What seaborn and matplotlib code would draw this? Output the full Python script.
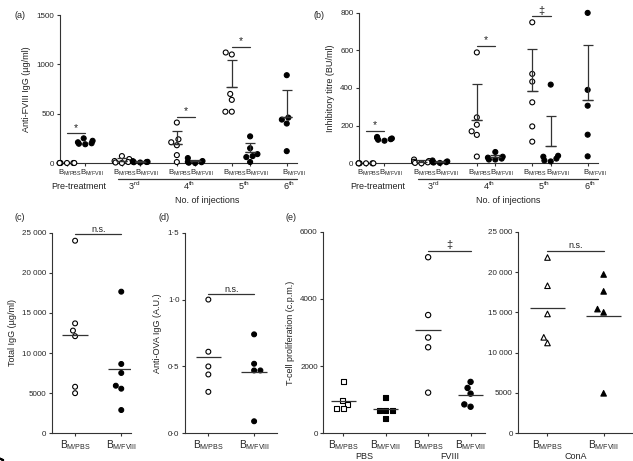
import warnings
import pandas as pd
import seaborn as sns
import matplotlib.pyplot as plt
from matplotlib.transforms import ScaledTranslation

warnings.filterwarnings('ignore')  # el swarm avisa cuando los puntos no caben

# ---------------- datos ----------------
# (a) Anti-FVIII IgG (ug/ml)
a_pre_pbs = [0, 0, 0, 0, 0, 0]
a_pre_fviii = [250, 225, 210, 200, 195, 190]
a_3_pbs = [70, 40, 20, 10, 5, 0]
a_3_fviii = [18, 15, 12, 10, 8, 5]
a_4_pbs = [410, 240, 210, 180, 80, 10]
a_4_fviii = [50, 20, 12, 8, 3, 0]
a_5_pbs = [1120, 1100, 700, 640, 520, 520]
a_5_fviii = [270, 150, 90, 70, 60, 10]
a_6_fviii = [890, 460, 440, 400, 120]

# (b) titulo inhibidor (BU/ml)
b_pre_pbs = [0, 0, 0, 0, 0, 0]
b_pre_fviii = [140, 135, 132, 128, 125, 120]
b_3_pbs = [20, 12, 8, 5, 2, 0]
b_3_fviii = [15, 10, 8, 6, 4, 2]
b_4_pbs = [589, 244, 205, 170, 151, 36]
b_4_fviii = [60, 35, 30, 25, 20, 20]
b_5_pbs = [749, 475, 434, 324, 196, 115]
b_5_fviii = [418, 40, 35, 25, 15, 10]
b_6_fviii = [799, 390, 306, 152, 37]

# (c) IgG total (ug/ml)
c_pbs = [24000, 13700, 12800, 12100, 5800, 5000]
c_fviii = [17650, 8640, 7520, 5930, 5560, 2900]

# (d) anti-OVA IgG (A.U.)
d_pbs = [1.0, 0.61, 0.50, 0.44, 0.31]
d_fviii = [0.74, 0.52, 0.47, 0.47, 0.09]

# (e) proliferacion de celulas T (c.p.m.)
e_pbs_pbs = [1530, 980, 870, 730, 730]
e_pbs_fviii = [1060, 690, 680, 680, 450]
e_fviii_pbs = [5240, 3520, 2850, 2560, 1210]
e_fviii_fviii = [1530, 1350, 1180, 860, 790]
e_cona_pbs = [21800, 18300, 14800, 11900, 11200]
e_cona_fviii = [19700, 17600, 15400, 15000, 4960]

orden_ab = ['pre_PBS', 'pre_FVIII', 'h1', '3_PBS', '3_FVIII', 'h2', '4_PBS', '4_FVIII',
            'h3', '5_PBS', '5_FVIII', 'h4', '6_FVIII']
etiq_ab = ['pre_PBS', 'pre_FVIII', '3_PBS', '3_FVIII', '4_PBS', '4_FVIII', '5_PBS', '5_FVIII', '6_FVIII']
grupos_iny = [('Pre-treatment', 'pre_PBS', 'pre_FVIII'), ('3$^{\\mathrm{rd}}$', '3_PBS', '3_FVIII'),
              ('4$^{\\mathrm{th}}$', '4_PBS', '4_FVIII'), ('5$^{\\mathrm{th}}$', '5_PBS', '5_FVIII'),
              ('6$^{\\mathrm{th}}$', '6_FVIII', '6_FVIII')]
B_PBS = r'B$_{\mathrm{M/PBS}}$'
B_FVIII = r'B$_{\mathrm{M/FVIII}}$'

# ---------------- estilo ----------------
sns.set_style('ticks')
gris = '#333333'
plt.rcParams['font.family'] = ['Liberation Sans', 'DejaVu Sans']
plt.rcParams['mathtext.fontset'] = 'custom'
plt.rcParams['mathtext.rm'] = 'Liberation Sans'
plt.rcParams['mathtext.it'] = 'Liberation Sans:italic'
plt.rcParams['text.color'] = '#222222'
plt.rcParams['axes.edgecolor'] = gris
plt.rcParams['axes.linewidth'] = 0.8
plt.rcParams['axes.labelsize'] = 6.5
plt.rcParams['axes.labelcolor'] = '#222222'

W, H = 633, 461
fig = plt.figure(figsize=(W / 100, H / 100), dpi=100)


def caja(izq, der, arr, aba):
    # rectangulo en pixeles -> fraccion de figura
    return [izq / W, (H - aba) / H, (der - izq) / W, (aba - arr) / H]


def tabla(series):
    filas = [(g, t, v) for g, t, vals in series for v in vals]
    return pd.DataFrame(filas, columns=['grupo', 'tipo', 'valor'])


def enjambre(ax, df, orden, marcador='o', tam=3.6):
    sns.swarmplot(data=df, x='grupo', y='valor', hue='tipo', order=orden,
                  hue_order=['PBS', 'FVIII'], palette={'PBS': 'white', 'FVIII': 'black'},
                  edgecolor='black', linewidth=0.8, size=tam, marker=marcador,
                  legend=False, ax=ax)
    for c in ax.collections:
        c.set_clip_on(False)


def media(ax, df, orden, grupos, ancho=0.3, de=True):
    for g in grupos:
        v = df.loc[df.grupo == g, 'valor']
        x = orden.index(g)
        ax.hlines(v.mean(), x - ancho, x + ancho, color=gris, lw=0.9, zorder=3)
        if de:
            ax.errorbar(x, v.mean(), yerr=[[0], [v.std()]], fmt='none', ecolor=gris,
                        elinewidth=0.9, capsize=3.5, capthick=0.9, zorder=3)


def signif(ax, x1, x2, y, texto, tam=7, dy=0.5):
    ax.plot([x1, x2], [y, y], color=gris, lw=0.9, clip_on=False)
    ax.annotate(texto, xy=((x1 + x2) / 2, y), xytext=(0, dy), textcoords='offset points',
                ha='center', va='bottom', fontsize=tam, annotation_clip=False)


def ejes(ax, xlim, ylim, yticks, yetiq, ylabel, xsize=7.3):
    ax.set_xlim(*xlim)
    ax.set_ylim(*ylim)
    ax.set_yticks(yticks)
    ax.set_yticklabels(yetiq)
    ax.set_ylabel(ylabel)
    ax.set_xlabel('')
    sns.despine(ax=ax)
    ax.tick_params(axis='y', labelsize=5.8, length=2.5, width=0.8, color=gris, pad=1.5)
    ax.tick_params(axis='x', labelsize=xsize, length=2.5, width=0.8, color=gris, pad=1)


def panel_inyecciones(ax, series, ylim, yticks, ylabel, sigs, alto_px):
    df = tabla(series)
    enjambre(ax, df, orden_ab, tam=3.6)
    media(ax, df, orden_ab, [g for g in etiq_ab if not g.startswith('pre')])
    ejes(ax, (-0.38, 12.56), ylim, yticks, [str(t) for t in yticks], ylabel, xsize=5.6)
    pos = [orden_ab.index(g) for g in etiq_ab]
    ax.set_xticks(pos)
    ax.set_xticklabels([B_PBS if g.endswith('PBS') else B_FVIII for g in etiq_ab])
    # las etiquetas del original quedan algo a la derecha de cada grupo
    for g, lab in zip(etiq_ab, ax.get_xticklabels()):
        dx = 3 if g.endswith('PBS') else 7
        lab.set_transform(lab.get_transform() + ScaledTranslation(dx / 100, 0, fig.dpi_scale_trans))
    for g1, g2, y, txt in sigs:
        signif(ax, orden_ab.index(g1), orden_ab.index(g2), y, txt, tam=8 if txt == '‡' else 7.5)
    tr = ax.get_xaxis_transform()
    for nombre, g1, g2 in grupos_iny:
        xm = (orden_ab.index(g1) + orden_ab.index(g2)) / 2
        ax.text(xm + 0.15, -23 / alto_px, nombre, transform=tr, ha='center', va='center',
                fontsize=6.5)
    x0 = orden_ab.index('3_PBS') - 0.2
    ax.plot([x0, 12.56], [-16 / alto_px] * 2, color=gris, lw=0.9, transform=tr, clip_on=False)
    ax.text((x0 + 12.56) / 2, -37 / alto_px, 'No. of injections', transform=tr,
            ha='center', va='center', fontsize=6.5)


# ---------------- (a) ----------------
ax_a = fig.add_axes(caja(60, 297, 15, 163))
panel_inyecciones(ax_a, [('pre_PBS', 'PBS', a_pre_pbs), ('pre_FVIII', 'FVIII', a_pre_fviii),
                         ('3_PBS', 'PBS', a_3_pbs), ('3_FVIII', 'FVIII', a_3_fviii),
                         ('4_PBS', 'PBS', a_4_pbs), ('4_FVIII', 'FVIII', a_4_fviii),
                         ('5_PBS', 'PBS', a_5_pbs), ('5_FVIII', 'FVIII', a_5_fviii),
                         ('6_FVIII', 'FVIII', a_6_fviii)],
                  (0, 1500), [0, 500, 1000, 1500], 'Anti-FVIII IgG (µg/ml)',
                  [('pre_PBS', 'pre_FVIII', 300, '*'), ('4_PBS', '4_FVIII', 470, '*'),
                   ('5_PBS', '5_FVIII', 1180, '*')], 148)

# ---------------- (b) ----------------
ax_b = fig.add_axes(caja(359, 598, 12.7, 163.3))
panel_inyecciones(ax_b, [('pre_PBS', 'PBS', b_pre_pbs), ('pre_FVIII', 'FVIII', b_pre_fviii),
                         ('3_PBS', 'PBS', b_3_pbs), ('3_FVIII', 'FVIII', b_3_fviii),
                         ('4_PBS', 'PBS', b_4_pbs), ('4_FVIII', 'FVIII', b_4_fviii),
                         ('5_PBS', 'PBS', b_5_pbs), ('5_FVIII', 'FVIII', b_5_fviii),
                         ('6_FVIII', 'FVIII', b_6_fviii)],
                  (0, 800), [0, 200, 400, 600, 800], 'Inhibitory titre (BU/ml)',
                  [('pre_PBS', 'pre_FVIII', 173, '*'), ('4_PBS', '4_FVIII', 625, '*'),
                   ('5_PBS', '5_FVIII', 780, '‡')], 150.6)

# ---------------- (c) ----------------
orden_cd = ['PBS', 'FVIII']
ax_c = fig.add_axes(caja(52, 130.5, 232.7, 433.3))
df_c = tabla([('PBS', 'PBS', c_pbs), ('FVIII', 'FVIII', c_fviii)])
enjambre(ax_c, df_c, orden_cd, tam=3.5)
media(ax_c, df_c, orden_cd, orden_cd, ancho=0.28, de=False)
ticks_mil = [0, 5000, 10000, 15000, 20000, 25000]
etiq_mil = ['0', '5000', '10 000', '15 000', '20 000', '25 000']
ejes(ax_c, (-0.5, 1.2), (0, 25000), ticks_mil, etiq_mil, 'Total IgG (µg/ml)')
ax_c.set_xticks([0, 1])
ax_c.set_xticklabels([B_PBS, B_FVIII])
signif(ax_c, 0, 1, 24800, 'n.s.', tam=6.5)

# ---------------- (d) ----------------
ax_d = fig.add_axes(caja(185, 277, 232.7, 433.3))
df_d = tabla([('PBS', 'PBS', d_pbs), ('FVIII', 'FVIII', d_fviii)])
enjambre(ax_d, df_d, orden_cd, tam=3.5)
media(ax_d, df_d, orden_cd, orden_cd, ancho=0.28, de=False)
ejes(ax_d, (-0.51, 1.5), (0, 1.5), [0, 0.5, 1.0, 1.5], ['0·0', '0·5', '1·0', '1·5'],
     'Anti-OVA IgG (A.U.)')
ax_d.set_xticks([0, 1])
ax_d.set_xticklabels([B_PBS, B_FVIII])
signif(ax_d, 0, 1, 1.04, 'n.s.', tam=6.5)

# ---------------- (e) ----------------
orden_e = ['PBS_PBS', 'PBS_FVIII', 'FVIII_PBS', 'FVIII_FVIII']
ax_e = fig.add_axes(caja(323.3, 485, 231.7, 433.3))
df_e1 = tabla([('PBS_PBS', 'PBS', e_pbs_pbs), ('PBS_FVIII', 'FVIII', e_pbs_fviii)])
df_e2 = tabla([('FVIII_PBS', 'PBS', e_fviii_pbs), ('FVIII_FVIII', 'FVIII', e_fviii_fviii)])
enjambre(ax_e, df_e1, orden_e, marcador='s', tam=3.6)
enjambre(ax_e, df_e2, orden_e, marcador='o', tam=3.8)
media(ax_e, pd.concat([df_e1, df_e2]), orden_e, orden_e, ancho=0.3, de=False)
ejes(ax_e, (-0.47, 3.34), (0, 6000), [0, 2000, 4000, 6000], ['0', '2000', '4000', '6000'],
     'T-cell proliferation (c.p.m.)')
ax_e.set_xticks([0, 1, 2, 3])
ax_e.set_xticklabels([B_PBS, B_FVIII, B_PBS, B_FVIII])
signif(ax_e, 2, 3, 5435, '‡', tam=8)
tr = ax_e.get_xaxis_transform()
ax_e.text(0.5, -23 / 201.6, 'PBS', transform=tr, ha='center', va='center', fontsize=6.5)
ax_e.text(2.5, -23 / 201.6, 'FVIII', transform=tr, ha='center', va='center', fontsize=6.5)

ax_f = fig.add_axes(caja(518.3, 631.7, 231.7, 433.3))
df_f = tabla([('PBS', 'PBS', e_cona_pbs), ('FVIII', 'FVIII', e_cona_fviii)])
enjambre(ax_f, df_f, orden_cd, marcador='^', tam=4)
media(ax_f, df_f, orden_cd, orden_cd, ancho=0.31, de=False)
ejes(ax_f, (-0.52, 1.5), (0, 25000), ticks_mil, etiq_mil, '')
ax_f.set_xticks([0, 1])
ax_f.set_xticklabels([B_PBS, B_FVIII])
signif(ax_f, 0, 1, 22650, 'n.s.', tam=6.5)
ax_f.text(0.5, -23 / 201.6, 'ConA', transform=ax_f.get_xaxis_transform(), ha='center',
          va='center', fontsize=6.5)

# letras de los paneles
for letra, px, py in [('(a)', 20, 15), ('(b)', 319, 15), ('(c)', 20, 217),
                      ('(d)', 164, 217), ('(e)', 291, 217)]:
    fig.text(px / W, 1 - py / H, letra, ha='center', va='center', fontsize=6.5)

fig.savefig('out.png', dpi=100)
